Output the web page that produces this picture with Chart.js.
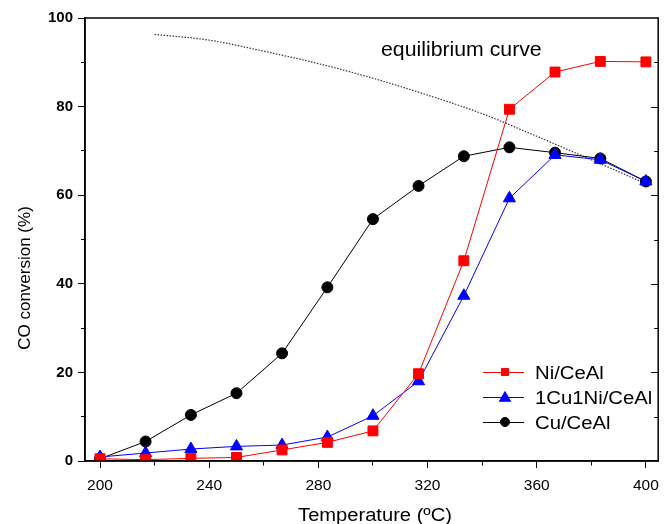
<!DOCTYPE html>
<html>
<head>
<meta charset="utf-8">
<script src="https://cdn.jsdelivr.net/npm/chart.js@4"></script>
<style>
  html, body { margin: 0; padding: 0; background: #fff; }
  #wrap { width: 667px; height: 524px; }
</style>
</head>
<body>
<div id="wrap"><canvas id="chart" width="667" height="524"></canvas></div>
<script>
// temperatures (ºC)
const temps = [200, 216.7, 233.3, 250, 266.7, 283.3, 300, 316.7, 333.3, 350, 366.7, 383.3, 400];
// CO conversion (%)
const niCeAl = [0.5, 0.3, 0.6, 0.8, 2.5, 4.2, 6.8, 19.7, 45.2, 79.4, 87.8, 90.2, 90.1];
const cuNiCeAl = [0.9, 1.8, 2.7, 3.3, 3.6, 5.4, 10.2, 18.0, 37.3, 59.3, 69.1, 68.0, 63.1];
const cuCeAl = [0.5, 4.4, 10.4, 15.3, 24.3, 39.2, 54.6, 62.1, 68.8, 70.8, 69.6, 68.3, 63.1];
// equilibrium curve
const eqTemps = [220, 240, 260, 280, 300, 320, 340, 360, 380, 400];
const eqConv = [96.3, 95.0, 92.5, 89.7, 86.4, 82.6, 78.4, 73.3, 68.0, 62.6];

const xTicks = [200, 220, 240, 260, 280, 300, 320, 340, 360, 380, 400];
const yTicks = [0, 10, 20, 30, 40, 50, 60, 70, 80, 90, 100];

const pts = (xs, ys) => xs.map((x, i) => ({ x: x, y: ys[i] }));

const FONT = '"Liberation Sans", Arial, sans-serif';

// the source figure is a bit wider than tall, so text gets a small horizontal stretch
function wideText(ctx, text, x, y, sx, align) {
  ctx.save();
  ctx.translate(x, y);
  ctx.scale(sx, 1);
  ctx.textAlign = align;
  ctx.fillText(text, 0, 0);
  ctx.restore();
}

// box, inward ticks on the right, text labels, legend
const decor = {
  id: 'decor',
  afterDraw(chart) {
    const ctx = chart.ctx, a = chart.chartArea;
    const ys = chart.scales.y;
    ctx.save();
    ctx.strokeStyle = '#000';
    ctx.lineWidth = 1.5;
    ctx.strokeRect(a.left, a.top, a.right - a.left, a.bottom - a.top);
    ctx.lineWidth = 1;
    yTicks.slice(1, -1).forEach(v => {
      const py = Math.round(ys.getPixelForValue(v)) + 0.5;
      ctx.beginPath();
      ctx.moveTo(a.right, py);
      ctx.lineTo(a.right - (v % 20 === 0 ? 7 : 4), py);
      ctx.stroke();
    });

    ctx.fillStyle = '#000';
    ctx.textBaseline = 'alphabetic';
    // equilibrium label
    ctx.font = '19.5px ' + FONT;
    wideText(ctx, 'equilibrium curve', 381, 56, 1.09, 'left');

    // axis titles
    ctx.font = '17.5px ' + FONT;
    wideText(ctx, 'Temperature (ºC)', 375, 520.5, 1.15, 'center');
    ctx.save();
    ctx.translate(30, 278);
    ctx.rotate(-Math.PI / 2);
    ctx.font = '17px ' + FONT;
    ctx.textAlign = 'center';
    ctx.fillText('CO conversion (%)', 0, 0);
    ctx.restore();

    // legend
    const legendSize = { rect: 5, triangle: 6.5, circle: 4.5 };
    chart.data.datasets.slice(0, 3).forEach((ds, i) => {
      const y = 372 + i * 25;
      ctx.strokeStyle = ds.borderColor;
      ctx.lineWidth = 1;
      ctx.beginPath();
      ctx.moveTo(483, y + 0.5);
      ctx.lineTo(524, y + 0.5);
      ctx.stroke();
      ctx.fillStyle = ds.pointBackgroundColor;
      Chart.helpers.drawPoint(ctx, {
        pointStyle: ds.pointStyle, radius: legendSize[ds.pointStyle], rotation: 0, borderWidth: 1
      }, 505, y + (ds.pointStyle === 'triangle' ? 1 : 0));
      ctx.fillStyle = '#000';
      ctx.font = '17.5px ' + FONT;
      wideText(ctx, ds.label, 535, y + 7, 1.16, 'left');
    });
    ctx.restore();
  }
};

new Chart(document.getElementById('chart'), {
  type: 'line',
  data: {
    datasets: [
      {
        label: 'Ni/CeAl', data: pts(temps, niCeAl),
        borderColor: '#ff0000', backgroundColor: '#ff0000',
        pointBackgroundColor: '#ff0000', pointBorderColor: '#ff0000',
        pointStyle: 'rect', pointRadius: 7, borderWidth: 1
      },
      {
        label: '1Cu1Ni/CeAl', data: pts(temps, cuNiCeAl),
        borderColor: '#0000ff', backgroundColor: '#0000ff',
        pointBackgroundColor: '#0000ff', pointBorderColor: '#0000ff',
        pointStyle: 'triangle', pointRadius: 7, borderWidth: 1
      },
      {
        label: 'Cu/CeAl', data: pts(temps, cuCeAl),
        borderColor: '#000000', backgroundColor: '#000000',
        pointBackgroundColor: '#000000', pointBorderColor: '#000000',
        pointStyle: 'circle', pointRadius: 5.5, borderWidth: 1
      },
      {
        label: 'equilibrium curve', data: pts(eqTemps, eqConv),
        borderColor: '#333333', borderWidth: 1.2, borderDash: [1.5, 1.5],
        pointRadius: 0, cubicInterpolationMode: 'monotone'
      }
    ]
  },
  options: {
    responsive: false,
    animation: false,
    events: [],
    layout: { padding: { top: 18, right: 3, left: 0, bottom: 0 } },
    plugins: { legend: { display: false }, tooltip: { enabled: false } },
    scales: {
      x: {
        type: 'linear', min: 194.5, max: 404.5,
        afterFit: s => { s.height = 63; },
        afterBuildTicks: s => { s.ticks = xTicks.map(v => ({ value: v })); },
        border: { display: true, color: '#000', width: 1.5 },
        grid: {
          drawOnChartArea: false, drawTicks: true, tickLength: 7,
          tickColor: '#000', tickWidth: 1,
          tickBorderDash: c => (c.tick && c.tick.value % 40 !== 0) ? [4, 100] : []
        },
        ticks: {
          color: '#000', padding: 8, maxRotation: 0, autoSkip: false,
          font: { family: FONT, size: 15.5 },
          callback: v => (v % 40 === 0 ? String(v) : '')
        }
      },
      y: {
        min: 0, max: 100,
        afterFit: s => { s.width = 85; },
        afterBuildTicks: s => { s.ticks = yTicks.map(v => ({ value: v })); },
        border: { display: true, color: '#000', width: 1.5 },
        grid: {
          drawOnChartArea: false, drawTicks: true, tickLength: 7,
          tickColor: '#000', tickWidth: 1,
          tickBorderDash: c => (c.tick && c.tick.value % 20 !== 0) ? [0, 3, 4, 100] : []
        },
        ticks: {
          color: '#000', padding: 5, autoSkip: false,
          font: { family: FONT, size: 15, weight: 'bold' },
          callback: v => (v % 20 === 0 ? String(v) : '')
        }
      }
    }
  },
  plugins: [decor]
});
</script>
</body>
</html>
